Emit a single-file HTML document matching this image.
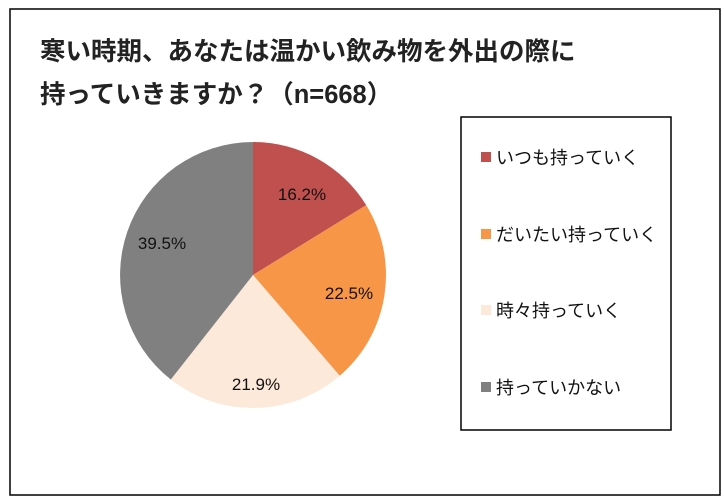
<!DOCTYPE html>
<html><head><meta charset="utf-8"><style>
body{margin:0;background:#fff;}
svg{display:block;font-family:"Liberation Sans","Noto Sans CJK JP",sans-serif;}
</style></head><body>
<svg width="724" height="502" viewBox="0 0 724 502">
<rect x="10" y="9" width="710" height="486" fill="#fff" stroke="#000" stroke-width="1.5"/>
<text x="40" y="60" font-size="25.5" font-weight="bold" fill="#222">寒い時期、あなたは温かい飲み物を外出の際に</text>
<text x="40" y="103" font-size="25.5" font-weight="bold" fill="#222">持っていきますか？（n=668）</text>
<path d="M253,275 L253,142 A133,133 0 0 1 366.2,205.1 Z" fill="#c0504d"/>
<path d="M253,275 L366.2,205.1 A133,133 0 0 1 339.7,375.8 Z" fill="#f79646"/>
<path d="M253,275 L339.7,375.8 A133,133 0 0 1 170.8,379.5 Z" fill="#fde9d9"/>
<path d="M253,275 L170.8,379.5 A133,133 0 0 1 253,142 Z" fill="#808080"/>
<g font-size="17" fill="#111" text-anchor="middle">
<text x="302" y="200">16.2%</text>
<text x="349" y="299">22.5%</text>
<text x="256" y="390">21.9%</text>
<text x="162" y="249">39.5%</text>
</g>
<rect x="461" y="117" width="210" height="313" fill="#fff" stroke="#000" stroke-width="1.5"/>
<rect x="481" y="152" width="10" height="10" fill="#c0504d"/>
<rect x="481" y="229" width="10" height="10" fill="#f79646"/>
<rect x="481" y="305" width="10" height="10" fill="#fde9d9"/>
<rect x="481" y="382" width="10" height="10" fill="#808080"/>
<g font-size="18" fill="#111">
<text x="496" y="164">いつも持っていく</text>
<text x="496" y="241">だいたい持っていく</text>
<text x="496" y="317">時々持っていく</text>
<text x="496" y="394">持っていかない</text>
</g>
</svg>
</body></html>
